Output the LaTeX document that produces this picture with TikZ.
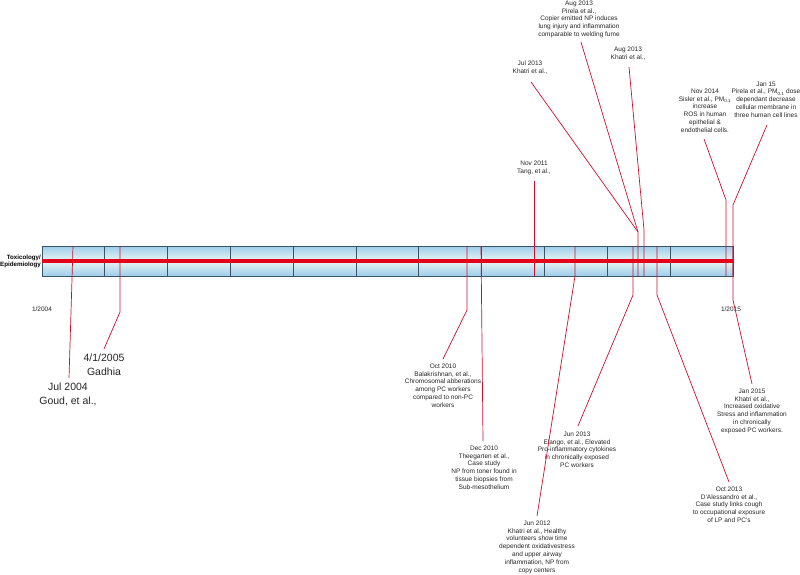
\documentclass[tikz,border=0pt]{standalone}
\usepackage{fontspec}
\setmainfont{Liberation Sans}
\usetikzlibrary{calc}
\definecolor{evred}{HTML}{C8102E}
\definecolor{barred}{HTML}{E3001B}
\definecolor{barline}{HTML}{3B5566}
\definecolor{bluedark}{HTML}{9CCDEC}
\definecolor{bluepale}{HTML}{EAF5F1}
\tikzset{
  lbl/.style={align=center, font=\fontsize{6.5}{7.8}\selectfont, inner sep=0pt, anchor=north, text=black!85},
  biglbl/.style={align=center, font=\fontsize{10.5}{14}\selectfont, inner sep=0pt, anchor=north, text=black!85},
  evline/.style={draw=evred, line width=0.7pt},
  divider/.style={draw=barline, line width=0.8pt},
  axislbl/.style={font=\fontsize{6.5}{7.8}\selectfont, inner sep=0pt, text=black!85},
}
\begin{document}
\begin{tikzpicture}[x=1pt,y=-1pt]
\useasboundingbox (0,0) rectangle (800,574);
% bar background
\shade[top color=bluedark, bottom color=bluepale] (42,246) rectangle (733,261);
\shade[top color=bluepale, bottom color=bluedark] (42,261) rectangle (733,276);
\node[draw=barline, line width=0.8pt, minimum width=691pt, minimum height=30pt, inner sep=0pt] (bar) at (387.5,261) {};
\foreach \k in {1,...,10} {
  \draw[divider] ({42+62.8*\k},246) -- ({42+62.8*\k},276);
}
% labels
\node[font=\bfseries\fontsize{6.2}{7}\selectfont, align=right, inner sep=0pt, anchor=east] (cat) at (41,261) {Toxicology/\\Epidemiology};
\node[axislbl] (y2004) at (42,309) {1/2004};
\node[axislbl] (y2015) at (731,309) {1/2015};

\node[biglbl] (goud) at (68,383) {Jul 2004\\Goud, et al.,};
\node[biglbl] (gadhia) at (104,354) {4/1/2005\\Gadhia};
\node[lbl] (bala) at (443,363.5) {Oct 2010\\Balakrishnan, et al.,\\Chromosomal abberations\\among PC workers\\compared to non-PC\\workers};
\node[lbl] (thee) at (484,445.5) {Dec 2010\\Theegarten et al.,\\Case study\\NP from toner found in\\tissue biopsies from\\Sub-mesothelium};
\node[lbl] (khatri12) at (537,520.5) {Jun 2012\\Khatri et al., Healthy\\volunteers show time\\dependent oxidativestress\\and upper airway\\inflammation, NP from\\copy centers};
\node[lbl] (elango) at (577,431.5) {Jun 2013\\Elango, et al., Elevated\\Pro-inflammatory cytokines\\in chronically exposed\\PC workers};
\node[lbl] (dal) at (729,486.5) {Oct 2013\\D'Alessandro et al.,\\Case study links cough\\to occupational exposure\\of LP and PC's};
\node[lbl] (khatri15) at (752,388.5) {Jan 2015\\Khatri et al.,\\Increased oxidative\\Stress and inflammation\\in chronically\\exposed PC workers.};
\node[lbl] (tang) at (534,160.5) {Nov 2011\\Tang, et al.,};
\node[lbl] (khatri13a) at (530,61) {Jul 2013\\Khatri et al.,};
\node[lbl] (pirela13) at (579,0.5) {Aug 2013\\Pirela et al.,\\Copier emitted NP induces\\lung injury and inflammation\\comparable to welding fume};
\node[lbl] (khatri13b) at (628,46.5) {Aug 2013\\Khatri et al.,};
\node[lbl] (sisler) at (705,88.5) {Nov 2014\\Sisler et al., PM\textsubscript{0.1}\\increase\\ROS in human\\epithelial \&\\endothelial cells.};
\node[lbl] (pirela15) at (766,81.5) {Jan 15\\Pirela et al., PM\textsubscript{0.1} dose\\dependant decrease\\cellular membrane in\\three human cell lines};

% event points on the bar and connector ends
\coordinate (p1) at (73,246);   \coordinate (e1) at (69,378);
\coordinate (p2) at (120,246);  \coordinate (k2) at (120,312); \coordinate (e2) at (104,349);
\coordinate (p3) at (467,246);  \coordinate (k3) at (467,310); \coordinate (e3) at (443,359);
\coordinate (p4) at (481,246);  \coordinate (e4) at (483,441);
\coordinate (p5) at (534,276);  \coordinate (e5) at (534,181);
\coordinate (p6) at (575,246);  \coordinate (k6) at (575,276); \coordinate (e6) at (537,516);
\coordinate (p7) at (633,246);  \coordinate (k7) at (633,295); \coordinate (e7) at (578,426);
\coordinate (p8) at (657,246);  \coordinate (k8) at (657,295); \coordinate (e8) at (729,482);
\coordinate (p9) at (638,276);  \coordinate (k9) at (638,232); \coordinate (e9) at (531,82);
\coordinate (e10) at (581,42);
\coordinate (p11) at (644,276); \coordinate (k11) at (644,230); \coordinate (e11) at (629,67);
\coordinate (p12) at (726,276); \coordinate (k12) at (726,200); \coordinate (e12) at (704,139);
\coordinate (p13) at (733,276); \coordinate (k13) at (733,205); \coordinate (e13) at (767,125);
\coordinate (p14) at (733,246); \coordinate (k14) at (733,300); \coordinate (e14) at (752,384);

\draw[evline] (p1) -- (e1);
\draw[evline] (p2) -- (k2) -- (e2);
\draw[evline] (p3) -- (k3) -- (e3);
\draw[evline] (p4) -- (e4);
\draw[evline] (p5) -- (e5);
\draw[evline] (p6) -- (k6) -- (e6);
\draw[evline] (p7) -- (k7) -- (e7);
\draw[evline] (p8) -- (k8) -- (e8);
\draw[evline] (p9) -- (k9) -- (e9);
\draw[evline] (k9) -- (e10);
\draw[evline] (p11) -- (k11) -- (e11);
\draw[evline] (p12) -- (k12) -- (e12);
\draw[evline] (p13) -- (k13) -- (e13);
\draw[evline] (p14) -- (k14) -- (e14);

% central red line
\draw[barred, line width=3.5pt] (bar.west) -- (bar.east);
\end{tikzpicture}
\end{document}
